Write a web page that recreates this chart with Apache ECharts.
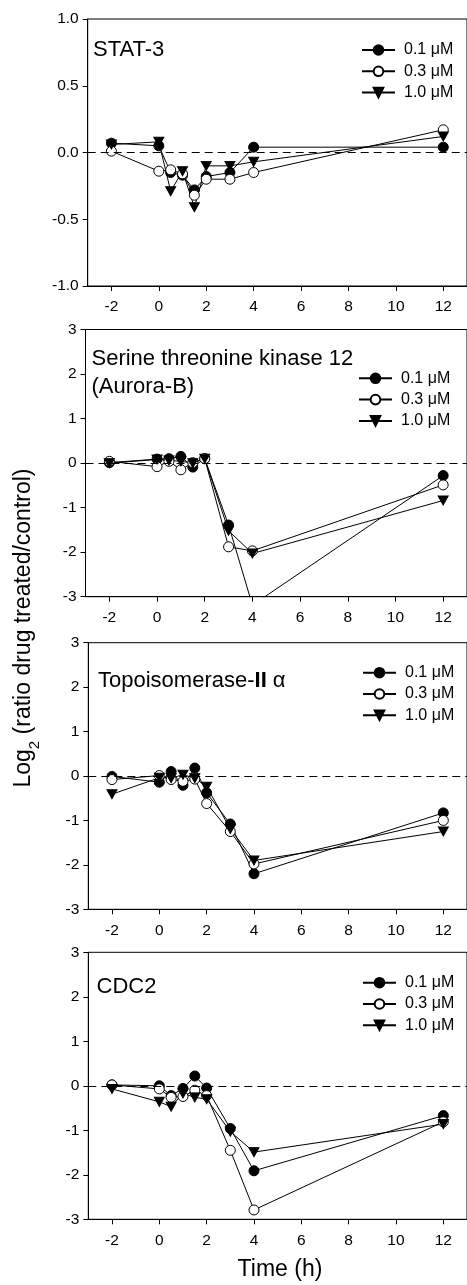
<!DOCTYPE html>
<html lang="en">
<head>
    <meta charset="UTF-8">
    <title>Log2 ratio drug treated/control</title>
    <script src="https://cdn.jsdelivr.net/npm/echarts@6/dist/echarts.min.js"></script>
    <style>
        html, body { margin: 0; padding: 0; background: #fff; }
        #main { width: 467px; height: 1285px; }
    </style>
</head>
<body>
<div id="main"></div>
<script type="text/javascript">
    // time points (h) and tick labels
    var times = [-2, 0, 0.5, 1, 1.5, 2, 3, 4, 12];
    var xTicks = [-2, 0, 2, 4, 6, 8, 10, 12];
    var doses = ['0.1 μM', '0.3 μM', '1.0 μM'];

    // STAT-3
    var stat3_01 = [0.07, 0.05, -0.15, -0.17, -0.28, -0.18, -0.15, 0.04, 0.04];
    var stat3_03 = [0.01, -0.14, -0.13, -0.16, -0.32, -0.20, -0.20, -0.15, 0.17];
    var stat3_10 = [0.06, 0.08, -0.29, -0.14, -0.41, -0.10, -0.10, -0.07, 0.12];

    // Serine threonine kinase 12 (Aurora-B)
    var aurb_01 = [0.01, 0.09, 0.10, 0.15, -0.09, 0.10, -1.39, -3.19, -0.28];
    var aurb_03 = [0.04, -0.08, 0.04, -0.15, 0.01, 0.10, -1.88, -1.97, -0.49];
    var aurb_10 = [0.00, 0.08, 0.06, 0.04, 0.00, 0.10, -1.52, -2.03, -0.84];

    // Topoisomerase-II alpha
    var topo_01 = [-0.01, -0.14, 0.10, -0.21, 0.18, -0.38, -1.08, -2.20, -0.83];
    var topo_03 = [-0.08, 0.01, -0.08, -0.12, -0.07, -0.62, -1.25, -1.98, -1.00];
    var topo_10 = [-0.41, -0.04, -0.05, 0.03, -0.05, -0.24, -1.19, -1.90, -1.25];

    // CDC2
    var cdc2_01 = [0.02, 0.00, -0.22, -0.06, 0.22, -0.05, -0.96, -1.91, -0.67];
    var cdc2_03 = [0.02, -0.07, -0.26, -0.24, -0.10, -0.22, -1.45, -2.79, -0.81];
    var cdc2_10 = [-0.07, -0.36, -0.47, -0.17, -0.26, -0.30, -1.03, -1.49, -0.86];

    var font = "'Liberation Sans', Arial, sans-serif";

    var panels = [
        {values: [stat3_01, stat3_03, stat3_10], yMin: -1, yMax: 1, yStep: 0.5, digits: 1,
            grid: {left: 87.7, top: 19, width: 381.9, height: 267}, legend: [361, 42]},
        {values: [aurb_01, aurb_03, aurb_10], yMin: -3, yMax: 3, yStep: 1, digits: 0,
            grid: {left: 85.5, top: 329.5, width: 381.7, height: 267.2}, legend: [358, 370.3]},
        {values: [topo_01, topo_03, topo_10], yMin: -3, yMax: 3, yStep: 1, digits: 0,
            grid: {left: 88.3, top: 642.7, width: 382.3, height: 266.6}, legend: [362, 664.7]},
        {values: [cdc2_01, cdc2_03, cdc2_10], yMin: -3, yMax: 3, yStep: 1, digits: 0,
            grid: {left: 88.3, top: 952.3, width: 382, height: 267}, legend: [362, 974.7]}
    ];

    var symbols = ['circle', 'circle', 'path://M0,0L10,0L5,9Z'];
    var symbolSizes = [10, 10, [10, 9]];
    var fills = ['#000', '#fff', '#000'];

    var grids = [], xAxes = [], yAxes = [], series = [], legends = [];

    panels.forEach(function (p, i) {
        grids.push({
            left: p.grid.left, top: p.grid.top, width: p.grid.width, height: p.grid.height,
            show: true, borderColor: '#000', borderWidth: 1, backgroundColor: 'transparent'
        });
        xAxes.push({
            type: 'value', gridIndex: i, min: -3, max: 13,
            axisLine: {onZero: false, lineStyle: {color: '#000', width: 1}},
            axisTick: {length: 5, lineStyle: {color: '#000'}, customValues: xTicks},
            axisLabel: {customValues: xTicks, margin: 13, fontSize: 15.5, fontFamily: font, color: '#000'},
            splitLine: {show: false}
        });
        yAxes.push({
            type: 'value', gridIndex: i, min: p.yMin, max: p.yMax, interval: p.yStep,
            axisLine: {show: true, onZero: false, lineStyle: {color: '#000', width: 1}},
            axisTick: {show: true, length: 5, lineStyle: {color: '#000'}},
            axisLabel: {
                margin: 9, fontSize: 15.5, fontFamily: font, color: '#000',
                formatter: (function (d) {
                    return function (v) { return v.toFixed(d); };
                })(p.digits)
            },
            splitLine: {show: false}
        });
        p.values.forEach(function (vals, k) {
            var s = {
                name: doses[k], type: 'line', xAxisIndex: i, yAxisIndex: i,
                data: times.map(function (t, j) { return [t, vals[j]]; }),
                symbol: symbols[k], symbolSize: symbolSizes[k], showAllSymbol: true,
                lineStyle: {color: '#000', width: 1},
                itemStyle: {color: fills[k], borderColor: '#000', borderWidth: 1},
                emphasis: {disabled: true},
                clip: true
            };
            if (k === 0) {
                // dashed zero line
                s.markLine = {
                    silent: true, symbol: 'none', label: {show: false},
                    lineStyle: {color: '#000', width: 1, type: [8, 5]},
                    emphasis: {disabled: true},
                    data: [{yAxis: 0}]
                };
            }
            series.push(s);
        });
        legends.push({
            data: doses, orient: 'vertical', left: p.legend[0], top: p.legend[1],
            padding: 0, itemWidth: 33, itemHeight: 12, itemGap: 5.3, selectedMode: false,
            textStyle: {fontSize: 16, fontFamily: font, color: '#000', lineHeight: 16, padding: [0, 0, 0, 4]}
        });
    });

    var graphics = [
        {type: 'text', x: 93, y: 50, style: {text: 'STAT-3', font: '22px ' + font, fill: '#000', verticalAlign: 'middle'}},
        {type: 'text', x: 91.5, y: 373, style: {text: 'Serine threonine kinase 12\n(Aurora-B)', font: '22px ' + font, lineHeight: 28, fill: '#000', verticalAlign: 'middle'}},
        {type: 'text', x: 98, y: 681, style: {
            text: '{n|Topoisomerase-}{b|II}{n| α}', fill: '#000', verticalAlign: 'middle',
            rich: {n: {fontSize: 22, fontFamily: font}, b: {fontSize: 22, fontFamily: font, fontWeight: 'bold'}}
        }},
        {type: 'text', x: 96.5, y: 987, style: {text: 'CDC2', font: '22px ' + font, fill: '#000', verticalAlign: 'middle'}},
        {type: 'text', x: 280, y: 1270, style: {text: 'Time (h)', font: '23px ' + font, fill: '#000', align: 'center', verticalAlign: 'middle'}},
        {type: 'text', x: 24, y: 628, rotation: Math.PI / 2, style: {
            text: '{n|Log}{s|2}{n| (ratio drug treated/control)}', fill: '#000', align: 'center', verticalAlign: 'middle',
            rich: {
                n: {fontSize: 23, fontFamily: font, lineHeight: 36, verticalAlign: 'middle'},
                s: {fontSize: 15, fontFamily: font, lineHeight: 15, verticalAlign: 'bottom'}
            }
        }}
    ];

    var chart = echarts.init(document.getElementById('main'), null, {renderer: 'canvas'});
    chart.setOption({
        animation: false,
        backgroundColor: '#fff',
        grid: grids,
        xAxis: xAxes,
        yAxis: yAxes,
        legend: legends,
        series: series,
        graphic: graphics
    });
</script>
</body>
</html>
